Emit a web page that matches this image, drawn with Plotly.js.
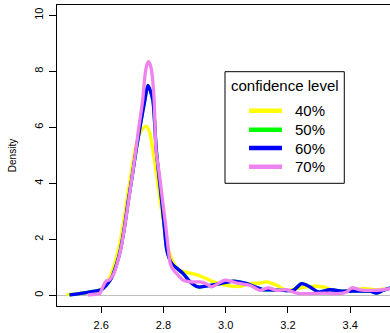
<!DOCTYPE html>
<html>
<head>
<meta charset="utf-8">
<script src="https://cdn.plot.ly/plotly-3.0.1.min.js"></script>
<style>
html, body { margin: 0; padding: 0; overflow: hidden; background: #fff; width: 390px; height: 333px; }
#chart { width: 420px; height: 333px; }
</style>
</head>
<body>
<div id="chart"></div>
<script>
// Confidence levels (legend labels)
const legendTitle = "confidence level";
const levels = ["40%", "50%", "60%", "70%"];
const colors = ["#FFFF00", "#00FF00", "#0000FF", "#EE82EE"];

// 40%
const x40 = [2.488, 2.52, 2.55, 2.58, 2.60, 2.615, 2.63, 2.645, 2.657, 2.67, 2.682, 2.695, 2.708, 2.72, 2.733, 2.745, 2.756, 2.766, 2.778, 2.789, 2.805, 2.817, 2.83, 2.845, 2.864, 2.896, 2.928, 2.961, 3.003, 3.046, 3.078, 3.11, 3.132, 3.164, 3.196, 3.228, 3.271, 3.314, 3.357, 3.40, 3.442, 3.485, 3.522, 3.56];
const y40 = [0.02, 0.05, 0.09, 0.14, 0.22, 0.4, 0.7, 1.2, 1.72, 2.5, 3.39, 4.3, 5.18, 5.7, 5.95, 6.04, 5.8, 5.18, 4.3, 3.39, 2.32, 1.6, 1.2, 0.95, 0.85, 0.77, 0.65, 0.48, 0.36, 0.32, 0.42, 0.44, 0.48, 0.36, 0.18, 0.24, 0.32, 0.3, 0.12, 0.18, 0.24, 0.2, 0.24, 0.24];

// 50% (hidden under 60%)
const x50 = [2.498, 2.541, 2.573, 2.60, 2.616, 2.632, 2.648, 2.661, 2.674, 2.687, 2.70, 2.712, 2.726, 2.740, 2.75, 2.758, 2.766, 2.777, 2.794, 2.803, 2.811, 2.827, 2.845, 2.864, 2.886, 2.912, 2.95, 2.982, 3.025, 3.068, 3.10, 3.121, 3.143, 3.185, 3.217, 3.244, 3.271, 3.298, 3.335, 3.378, 3.421, 3.464, 3.485, 3.506, 3.528, 3.56];
const y50 = [0.02, 0.08, 0.14, 0.2, 0.36, 0.6, 1.07, 1.6, 2.4, 3.39, 4.3, 5.18, 6.1, 6.96, 7.5, 7.3, 6.96, 5.18, 3.39, 2.4, 1.6, 1.13, 0.95, 0.77, 0.48, 0.30, 0.36, 0.42, 0.51, 0.42, 0.28, 0.2, 0.2, 0.18, 0.18, 0.42, 0.3, 0.12, 0.2, 0.15, 0.15, 0.15, 0.08, 0.18, 0.26, 0.28];

// 60%
const x60 = [2.498, 2.541, 2.573, 2.60, 2.616, 2.632, 2.648, 2.661, 2.674, 2.687, 2.70, 2.712, 2.726, 2.740, 2.75, 2.758, 2.766, 2.777, 2.794, 2.803, 2.811, 2.827, 2.845, 2.864, 2.886, 2.912, 2.95, 2.982, 3.025, 3.068, 3.10, 3.121, 3.143, 3.185, 3.217, 3.244, 3.271, 3.298, 3.335, 3.378, 3.421, 3.464, 3.485, 3.506, 3.528, 3.56];
const y60 = [0.02, 0.08, 0.14, 0.2, 0.36, 0.6, 1.07, 1.6, 2.4, 3.39, 4.3, 5.18, 6.1, 6.96, 7.5, 7.3, 6.96, 5.18, 3.39, 2.4, 1.6, 1.13, 0.95, 0.77, 0.48, 0.30, 0.36, 0.42, 0.51, 0.42, 0.28, 0.2, 0.2, 0.18, 0.18, 0.42, 0.3, 0.12, 0.2, 0.15, 0.15, 0.15, 0.08, 0.18, 0.26, 0.28];

// 70%
const x70 = [2.557, 2.58, 2.595, 2.605, 2.616, 2.627, 2.64, 2.654, 2.664, 2.676, 2.688, 2.70, 2.711, 2.722, 2.733, 2.741, 2.747, 2.752, 2.757, 2.762, 2.770, 2.776, 2.787, 2.797, 2.807, 2.816, 2.822, 2.832, 2.843, 2.864, 2.886, 2.918, 2.94, 2.955, 2.975, 2.998, 3.036, 3.078, 3.11, 3.137, 3.164, 3.196, 3.228, 3.271, 3.314, 3.357, 3.389, 3.405, 3.432, 3.464, 3.506, 3.528, 3.56];
const y70 = [0.02, 0.04, 0.06, 0.3, 0.51, 0.56, 0.77, 1.25, 1.72, 2.5, 3.39, 4.3, 5.18, 6.1, 6.96, 7.9, 8.25, 8.35, 8.25, 8.0, 6.96, 5.18, 4.3, 3.39, 2.5, 1.6, 1.13, 0.9, 0.77, 0.54, 0.48, 0.48, 0.4, 0.3, 0.42, 0.54, 0.44, 0.36, 0.18, 0.27, 0.18, 0.2, 0.08, 0.06, 0.08, 0.06, 0.12, 0.27, 0.2, 0.18, 0.2, 0.24, 0.25];

const xTicks = [2.6, 2.8, 3.0, 3.2, 3.4];
const xTickText = ["2.6", "2.8", "3.0", "3.2", "3.4"];
const yTicks = [0, 2, 4, 6, 8, 10];

const xs = [x40, x50, x60, x70];
const ys = [y40, y50, y60, y70];

const traces = levels.map((name, i) => ({
  type: "scatter",
  mode: "lines",
  name: name,
  x: xs[i],
  y: ys[i],
  line: { color: colors[i], width: 3.3, shape: "spline", smoothing: 0.8 },
  hoverinfo: "skip",
  showlegend: false
}));

// R-style boxed legend placed inside the plot (paper coordinates)
const box = { x0: 0.4898, x1: 0.8376, y0: 0.4076, y1: 0.7784 };
const rowY = [0.6488, 0.5857, 0.5249, 0.4628];
const shapes = [{
  type: "rect", xref: "paper", yref: "paper",
  x0: box.x0, x1: box.x1, y0: box.y0, y1: box.y1,
  line: { color: "#000", width: 1 }, fillcolor: "#ffffff", layer: "above"
}];
const annotations = [{
  xref: "paper", yref: "paper", x: (box.x0 + box.x1) / 2, y: 0.7342,
  text: legendTitle, showarrow: false, xanchor: "center", yanchor: "middle",
  font: { size: 15, color: "#000" }
}];
levels.forEach((name, i) => {
  shapes.push({
    type: "line", xref: "paper", yref: "paper",
    x0: 0.5598, x1: 0.6560, y0: rowY[i], y1: rowY[i],
    line: { color: colors[i], width: 4.5 }, layer: "above"
  });
  annotations.push({
    xref: "paper", yref: "paper", x: 0.6889, y: rowY[i],
    text: name, showarrow: false, xanchor: "left", yanchor: "middle",
    font: { size: 15, color: "#000" }
  });
});

const layout = {
  width: 420,
  height: 333,
  margin: { l: 57, r: 20, t: 5, b: 27 },
  paper_bgcolor: "#ffffff",
  plot_bgcolor: "#ffffff",
  font: { family: "Liberation Sans, Arial, sans-serif", color: "#000" },
  showlegend: false,
  shapes: shapes,
  annotations: annotations,
  xaxis: {
    range: [2.4578, 3.56],
    tickvals: xTicks, ticktext: xTickText,
    ticks: "outside", ticklen: 6, tickcolor: "#000",
    ticklabelstandoff: 3,
    showline: true, linecolor: "#000", linewidth: 1, mirror: true,
    showgrid: false, zeroline: false,
    tickfont: { size: 11 }
  },
  yaxis: {
    range: [-0.38, 10.37],
    tickvals: yTicks,
    ticks: "outside", ticklen: 7, tickcolor: "#000",
    ticklabelstandoff: 2,
    tickangle: -90,
    showline: true, linecolor: "#000", linewidth: 1, mirror: true,
    showgrid: false,
    zeroline: true, zerolinecolor: "#BEBEBE", zerolinewidth: 1,
    tickfont: { size: 11 },
    title: { text: "Density", font: { size: 10 }, standoff: 14 }
  }
};

Plotly.newPlot("chart", traces, layout, { displayModeBar: false, staticPlot: true });
</script>
</body>
</html>
